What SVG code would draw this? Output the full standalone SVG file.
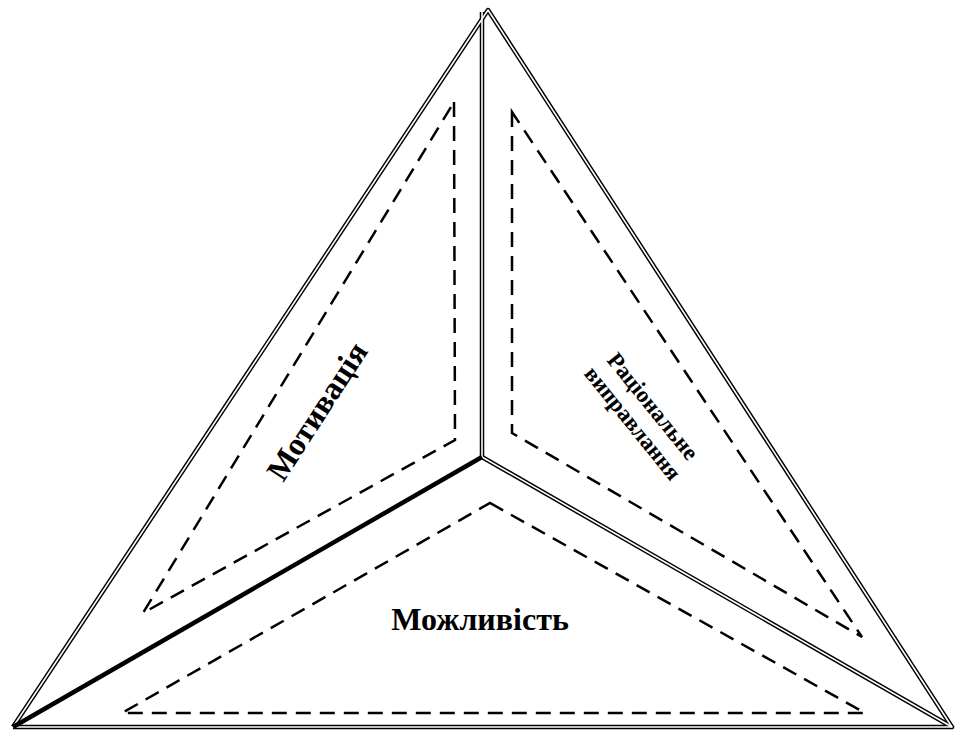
<svg xmlns="http://www.w3.org/2000/svg" width="957" height="731" viewBox="0 0 957 731">
<style>
.dbl{fill:none;stroke:#000;stroke-width:4.5;stroke-linejoin:round}
.dblw{fill:none;stroke:#fff;stroke-width:1.6;stroke-linejoin:round}
.dash{fill:none;stroke:#000;stroke-width:2.5;stroke-dasharray:15 9}
.lbl{font-family:"Liberation Serif","Times New Roman",serif;font-weight:bold;fill:#000}
</style>
<rect width="957" height="731" fill="#fff"/>
<g id="connectors">
<polyline class="dbl" points="13,727 488,10 952,727 13,727"/>
<line class="dbl" x1="482" y1="12" x2="482" y2="457"/>
<line class="dbl" x1="482" y1="457" x2="952" y2="727"/>
<polyline class="dblw" points="13,727 488,10 952,727 13,727"/>
<line class="dblw" x1="482" y1="12" x2="482" y2="457"/>
<line class="dblw" x1="482" y1="457" x2="952" y2="727"/>
<line x1="482" y1="457" x2="13" y2="727" stroke="#000" stroke-width="4.5"/>
</g>
<g id="motivation">
<polygon class="dash" points="454,102 455,440 143,613"/>
<text class="lbl" font-size="32" text-anchor="middle" transform="translate(326,417) rotate(-57)">Мотивація</text>
</g>
<g id="rational">
<polygon class="dash" points="512,112 512,433 862,637"/>
<text class="lbl" font-size="23" text-anchor="middle" transform="translate(647,411) rotate(51)">Раціональне</text>
<text class="lbl" font-size="23" text-anchor="middle" transform="translate(627,428) rotate(51)">виправлання</text>
</g>
<g id="possibility">
<polygon class="dash" points="490,503 865,713 122,713"/>
<text class="lbl" font-size="32" text-anchor="middle" x="480" y="630">Можливість</text>
</g>
</svg>
